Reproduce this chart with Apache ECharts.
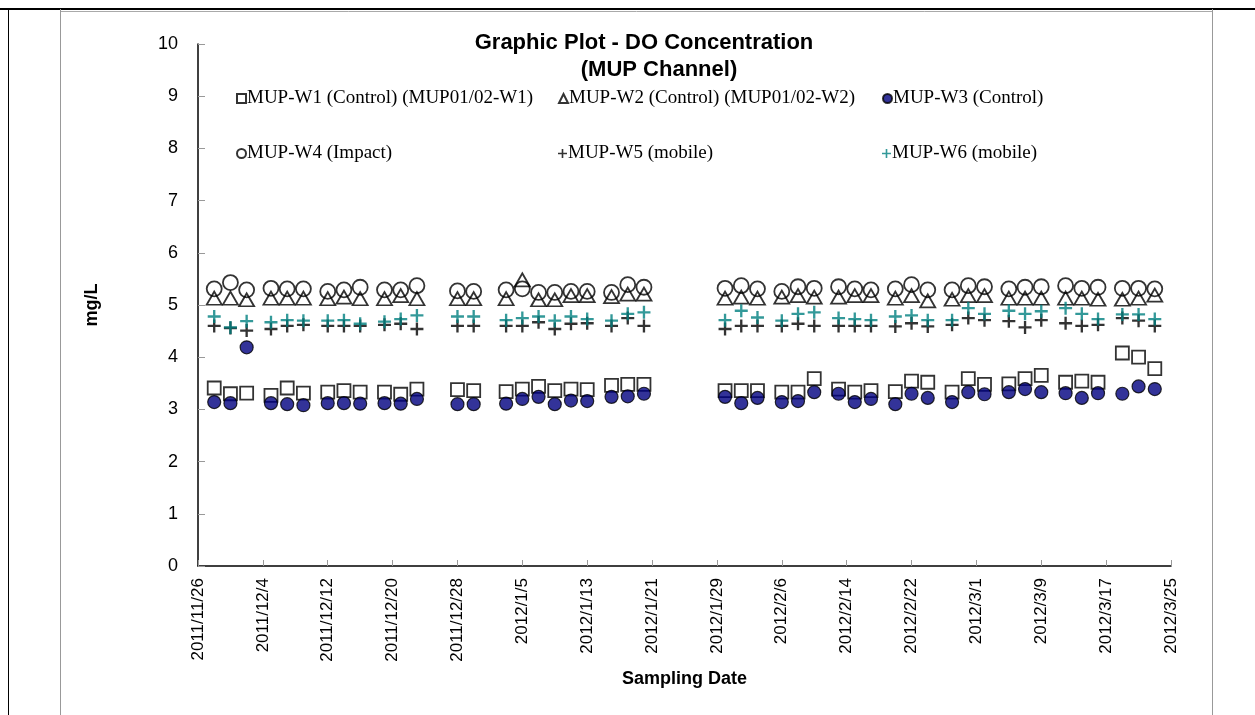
<!DOCTYPE html>
<html>
<head>
<meta charset="utf-8">
<script src="https://cdn.jsdelivr.net/npm/echarts@6/dist/echarts.min.js"></script>
<style>
html,body{margin:0;padding:0;background:#fff;}
#chart{width:1255px;height:715px;}
</style>
</head>
<body>
<div id="chart"></div>
<script>
// Sampling dates
var sampleDates = [
  '2011/11/28','2011/11/30','2011/12/2',
  '2011/12/5','2011/12/7','2011/12/9',
  '2011/12/12','2011/12/14','2011/12/16',
  '2011/12/19','2011/12/21','2011/12/23',
  '2011/12/28','2011/12/30',
  '2012/1/3','2012/1/5','2012/1/7','2012/1/9','2012/1/11','2012/1/13',
  '2012/1/16','2012/1/18','2012/1/20',
  '2012/1/30','2012/2/1','2012/2/3',
  '2012/2/6','2012/2/8','2012/2/10',
  '2012/2/13','2012/2/15','2012/2/17',
  '2012/2/20','2012/2/22','2012/2/24',
  '2012/2/27','2012/2/29','2012/3/2',
  '2012/3/5','2012/3/7','2012/3/9',
  '2012/3/12','2012/3/14','2012/3/16',
  '2012/3/19','2012/3/21','2012/3/23'
];
// DO concentration (mg/L)
var w1 = [3.41,3.30,3.31, 3.27,3.41,3.31, 3.33,3.36,3.33, 3.33,3.29,3.39, 3.38,3.36,
          3.34,3.39,3.44,3.36,3.39,3.38, 3.46,3.48,3.48,
          3.36,3.36,3.36, 3.33,3.33,3.59, 3.39,3.33,3.36, 3.34,3.54,3.52,
          3.33,3.59,3.48, 3.49,3.59,3.65, 3.52,3.54,3.52, 4.08,4.00,3.78];
var w2 = [5.13,5.13,5.10, 5.13,5.13,5.13, 5.12,5.15,5.12, 5.12,5.18,5.12, 5.12,5.12,
          5.12,5.48,5.10,5.10,5.18,5.18, 5.16,5.21,5.21,
          5.13,5.15,5.13, 5.15,5.18,5.15, 5.15,5.18,5.18, 5.13,5.18,5.08,
          5.11,5.18,5.18, 5.13,5.13,5.13, 5.13,5.13,5.11, 5.11,5.13,5.19];
var w3 = [3.14,3.12,4.19, 3.12,3.10,3.08, 3.12,3.12,3.11, 3.12,3.11,3.20, 3.10,3.10,
          3.11,3.20,3.24,3.10,3.17,3.16, 3.24,3.25,3.30,
          3.24,3.12,3.22, 3.14,3.16,3.33, 3.30,3.14,3.20, 3.10,3.30,3.22,
          3.14,3.33,3.29, 3.33,3.39,3.33, 3.31,3.22,3.31, 3.30,3.44,3.39];
var w4 = [5.31,5.43,5.29, 5.32,5.31,5.31, 5.26,5.29,5.34, 5.29,5.29,5.37, 5.27,5.26,
          5.29,5.31,5.24,5.24,5.26,5.26, 5.24,5.39,5.34,
          5.32,5.37,5.31, 5.26,5.35,5.32, 5.35,5.31,5.29, 5.31,5.39,5.29,
          5.29,5.37,5.35, 5.31,5.34,5.35, 5.37,5.32,5.34, 5.32,5.32,5.31];
var w5 = [4.60,4.56,4.51, 4.54,4.60,4.62, 4.60,4.60,4.60, 4.62,4.64,4.54, 4.60,4.60,
          4.60,4.60,4.67,4.54,4.64,4.65, 4.60,4.75,4.60,
          4.54,4.60,4.60, 4.60,4.64,4.60, 4.60,4.60,4.60, 4.59,4.65,4.59,
          4.62,4.75,4.71, 4.69,4.57,4.71, 4.65,4.60,4.62, 4.75,4.70,4.60];
var w6 = [4.78,4.57,4.69, 4.67,4.71,4.70, 4.70,4.71,4.64, 4.68,4.73,4.80, 4.78,4.78,
          4.71,4.75,4.78,4.70,4.78,4.73, 4.70,4.83,4.86,
          4.71,4.89,4.76, 4.70,4.83,4.86, 4.75,4.73,4.71, 4.78,4.80,4.71,
          4.71,4.94,4.83, 4.89,4.83,4.88, 4.94,4.83,4.73, 4.82,4.82,4.73];
var seriesNames = [
  'MUP-W1 (Control) (MUP01/02-W1)',
  'MUP-W2 (Control) (MUP01/02-W2)',
  'MUP-W3 (Control)',
  'MUP-W4 (Impact)',
  'MUP-W5 (mobile)',
  'MUP-W6 (mobile)'
];
var yTicks = [0,1,2,3,4,5,6,7,8,9,10];

var START = Date.UTC(2011,10,26);
var DAY = 86400000;
function dayOffset(s){var p=s.split('/');return Math.round((Date.UTC(+p[0],+p[1]-1,+p[2])-START)/DAY);}
function fmtDay(v){var d=new Date(START+v*DAY);return d.getUTCFullYear()+'/'+(d.getUTCMonth()+1)+'/'+d.getUTCDate();}
var xs = sampleDates.map(dayOffset);
function pairs(vals){return vals.map(function(v,i){return [xs[i],v];});}

var NARROW = "'Liberation Sans Narrow','Arial Narrow','Liberation Sans',Arial,sans-serif";
var SERIF = "'Liberation Serif','Times New Roman',serif";
var PLUS = 'path://M0,4.1L10,4.1L10,5.9L0,5.9Z M4.1,0L5.9,0L5.9,10L4.1,10Z';

var symbols = ['rect','triangle','circle','circle',PLUS,PLUS];
var sizes = [[13,13],[15,13],13,15,13,13];
var styles = [
  {color:'rgba(255,255,255,0)',borderColor:'#000',borderWidth:1.8},
  {color:'rgba(255,255,255,0)',borderColor:'#000',borderWidth:1.8},
  {color:'#000080',borderColor:'#000',borderWidth:1.2},
  {color:'rgba(255,255,255,0)',borderColor:'#000',borderWidth:1.8},
  {color:'#000',borderWidth:0},
  {color:'#008080',borderWidth:0}
];
var vals = [w1,w2,w3,w4,w5,w6];
var legendPos = [[236,89],[558,89],[882,89],[236,144],[558,144],[882,144]];

var series = vals.map(function(v,i){
  return {name:seriesNames[i],type:'scatter',data:pairs(v),symbol:symbols[i],symbolSize:sizes[i],
    itemStyle:styles[i],emphasis:{disabled:true},z:2+i};
});
var legends = seriesNames.map(function(n,i){
  return {data:[n],left:legendPos[i][0],top:legendPos[i][1],itemWidth:9,itemHeight:9,
    padding:0,selectedMode:false,
    textStyle:{fontFamily:SERIF,fontSize:19,color:'#000',padding:[0,0,0,-4]}};
});

var chart = echarts.init(document.getElementById('chart'),null,{renderer:'canvas'});
chart.setOption({
  animation:false,
  backgroundColor:'#fff',
  title:[
    {text:'Graphic Plot - DO Concentration',left:639,top:27,textAlign:'center',
     textStyle:{fontFamily:NARROW,fontWeight:'bold',fontSize:22,color:'#000'}},
    {text:'(MUP Channel)',left:654,top:54,textAlign:'center',
     textStyle:{fontFamily:NARROW,fontWeight:'bold',fontSize:22,color:'#000'}}
  ],
  legend:legends,
  grid:{left:198,right:84,top:44,bottom:149,containLabel:false},
  xAxis:{type:'value',min:0,max:120,interval:8,
    name:'Sampling Date',nameLocation:'middle',nameGap:100,
    nameTextStyle:{fontFamily:NARROW,fontWeight:'bold',fontSize:18,color:'#000'},
    axisLine:{lineStyle:{color:'#000',width:1.5}},
    axisTick:{inside:true,length:6,lineStyle:{color:'#999'}},
    splitLine:{show:false},
    axisLabel:{rotate:90,margin:12,fontFamily:NARROW,fontSize:17,color:'#000',formatter:fmtDay}},
  yAxis:{type:'value',min:yTicks[0],max:yTicks[yTicks.length-1],interval:1,
    name:'mg/L',nameLocation:'middle',nameGap:97,
    nameTextStyle:{fontFamily:NARROW,fontWeight:'bold',fontSize:18,color:'#000'},
    axisLine:{show:true,lineStyle:{color:'#000',width:1.5}},
    axisTick:{show:true,inside:true,length:7,lineStyle:{color:'#999'}},
    splitLine:{show:false},
    axisLabel:{margin:20,fontFamily:NARROW,fontSize:18,color:'#000'}},
  graphic:[
    {type:'line',shape:{x1:0,y1:9,x2:1255,y2:9},style:{stroke:'#000',lineWidth:2}},
    {type:'line',shape:{x1:60,y1:11.5,x2:1213,y2:11.5},style:{stroke:'#aaa',lineWidth:1}},
    {type:'line',shape:{x1:8.5,y1:9,x2:8.5,y2:715},style:{stroke:'#000',lineWidth:1}},
    {type:'line',shape:{x1:60.5,y1:9,x2:60.5,y2:715},style:{stroke:'#999',lineWidth:1}},
    {type:'line',shape:{x1:1212.5,y1:9,x2:1212.5,y2:715},style:{stroke:'#999',lineWidth:1}}
  ],
  series:series
});
</script>
</body>
</html>
